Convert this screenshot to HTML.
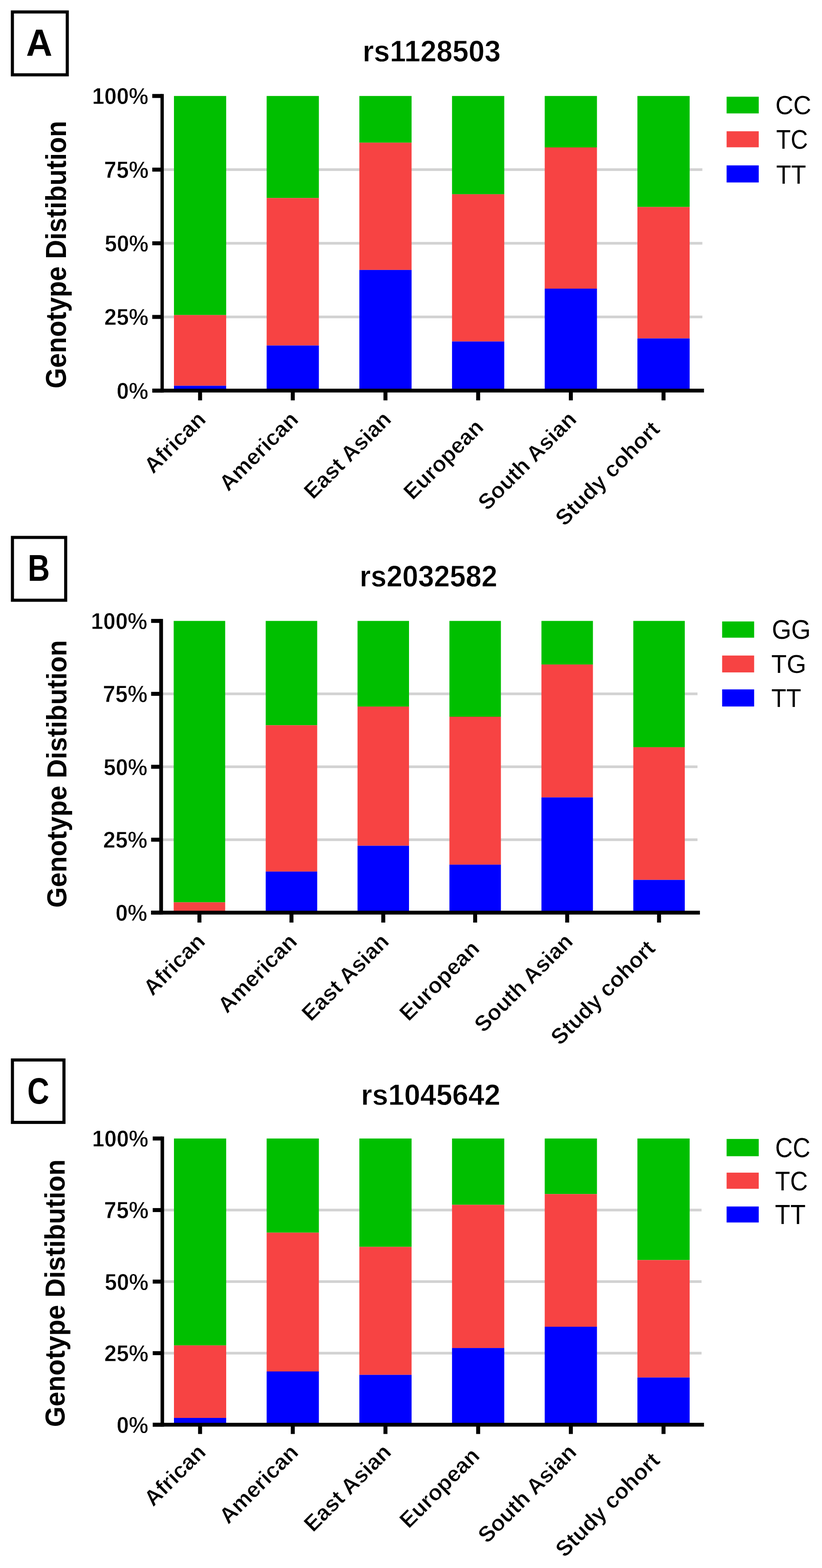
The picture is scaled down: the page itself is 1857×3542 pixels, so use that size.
<!DOCTYPE html>
<html><head><meta charset="utf-8"><title>Genotype Distribution</title>
<style>
html,body{margin:0;padding:0;background:#fff;}
body{width:1857px;height:3542px;overflow:hidden;}
svg{display:block;filter:blur(0.7px);}
text{font-family:'Liberation Sans', Arial, sans-serif;fill:#000;}
</style></head>
<body>
<svg width="1857" height="3542" viewBox="0 0 1857 3542">
<rect width="1857" height="3542" fill="#fff"/>
<rect x="28" y="27" width="124" height="142" fill="none" stroke="#000" stroke-width="7"/>
<text transform="translate(58.94,125.85) scale(0.9677,1)" font-size="84.71" font-weight="bold">A</text>
<text transform="translate(819.24,138.61) scale(0.9482,1)" font-size="68.73" font-weight="bold" stroke="#fff" stroke-width="0.8">rs1128503</text>
<rect x="366.3" y="712.92" width="1220.4" height="6" fill="#d2d2d2"/>
<rect x="366.3" y="546.55" width="1220.4" height="6" fill="#d2d2d2"/>
<rect x="366.3" y="380.17" width="1220.4" height="6" fill="#d2d2d2"/>
<rect x="393" y="216.8" width="118" height="494.9" fill="#00bf00"/>
<rect x="393" y="711.7" width="118" height="159.7" fill="#f74343"/>
<rect x="393" y="871.4" width="118" height="10.9" fill="#0000ff"/>
<rect x="602.4" y="216.8" width="118" height="230.5" fill="#00bf00"/>
<rect x="602.4" y="447.3" width="118" height="333.2" fill="#f74343"/>
<rect x="602.4" y="780.5" width="118" height="101.8" fill="#0000ff"/>
<rect x="811.8" y="216.8" width="118" height="105.5" fill="#00bf00"/>
<rect x="811.8" y="322.3" width="118" height="287.5" fill="#f74343"/>
<rect x="811.8" y="609.8" width="118" height="272.5" fill="#0000ff"/>
<rect x="1021.2" y="216.8" width="118" height="222" fill="#00bf00"/>
<rect x="1021.2" y="438.8" width="118" height="332.6" fill="#f74343"/>
<rect x="1021.2" y="771.4" width="118" height="110.9" fill="#0000ff"/>
<rect x="1230.6" y="216.8" width="118" height="116.2" fill="#00bf00"/>
<rect x="1230.6" y="333" width="118" height="319" fill="#f74343"/>
<rect x="1230.6" y="652" width="118" height="230.3" fill="#0000ff"/>
<rect x="1440" y="216.8" width="118" height="250.8" fill="#00bf00"/>
<rect x="1440" y="467.6" width="118" height="296.9" fill="#f74343"/>
<rect x="1440" y="764.5" width="118" height="117.8" fill="#0000ff"/>
<rect x="362.55" y="212.3" width="7.5" height="674.5" fill="#000"/>
<rect x="344" y="212.3" width="22.3" height="9" fill="#000"/>
<text transform="translate(208.01,235.28) scale(0.9556,1)" font-size="52.11" font-weight="bold" stroke="#fff" stroke-width="0.8">100%</text>
<rect x="344" y="378.68" width="22.3" height="9" fill="#000"/>
<text transform="translate(234.99,401.65) scale(0.9508,1)" font-size="52.86" font-weight="bold" stroke="#fff" stroke-width="0.8">75%</text>
<rect x="344" y="545.05" width="22.3" height="9" fill="#000"/>
<text transform="translate(236.52,568.03) scale(0.9496,1)" font-size="52.11" font-weight="bold" stroke="#fff" stroke-width="0.8">50%</text>
<rect x="344" y="711.42" width="22.3" height="9" fill="#000"/>
<text transform="translate(235.5,734.4) scale(0.9595,1)" font-size="52.11" font-weight="bold" stroke="#fff" stroke-width="0.8">25%</text>
<rect x="344" y="877.8" width="22.3" height="9" fill="#000"/>
<text transform="translate(263.51,900.78) scale(0.9525,1)" font-size="52.11" font-weight="bold" stroke="#fff" stroke-width="0.8">0%</text>
<rect x="344" y="878" width="1246.4" height="8.6" fill="#000"/>
<rect x="447.5" y="882.3" width="9" height="22.1" fill="#000"/>
<text transform="translate(346,1072.1) rotate(-45)" font-size="50" font-weight="bold" stroke="#fff" stroke-width="0.8">African</text>
<rect x="656.9" y="882.3" width="9" height="22.1" fill="#000"/>
<text transform="translate(515.8,1111.7) rotate(-45)" font-size="50" font-weight="bold" stroke="#fff" stroke-width="0.8">American</text>
<rect x="866.3" y="882.3" width="9" height="22.1" fill="#000"/>
<text transform="translate(707.17,1129.73) rotate(-45)" font-size="50" font-weight="bold" stroke="#fff" stroke-width="0.8">East Asian</text>
<rect x="1075.7" y="882.3" width="9" height="22.1" fill="#000"/>
<text transform="translate(932.23,1131.17) rotate(-45)" font-size="50" font-weight="bold" stroke="#fff" stroke-width="0.8">European</text>
<rect x="1285.1" y="882.3" width="9" height="22.1" fill="#000"/>
<text transform="translate(1100.52,1155.18) rotate(-45)" font-size="50" font-weight="bold" stroke="#fff" stroke-width="0.8">South Asian</text>
<rect x="1494.5" y="882.3" width="9" height="22.1" fill="#000"/>
<text transform="translate(1275.37,1190.53) rotate(-45)" font-size="50" font-weight="bold" stroke="#fff" stroke-width="0.8">Study cohort</text>
<rect x="1641.5" y="218.5" width="72.6" height="37.7" fill="#00bf00"/>
<rect x="1641.5" y="296.5" width="72.6" height="36.2" fill="#f74343"/>
<rect x="1641.5" y="373.6" width="72.6" height="38.6" fill="#0000ff"/>
<text transform="translate(1751.7,258.3) scale(0.9346,1)" font-size="60">CC</text>
<text transform="translate(1753.42,335.9) scale(0.8947,1)" font-size="60.28">TC</text>
<text transform="translate(1753.39,414.5) scale(0.9187,1)" font-size="60.14">TT</text>
<text transform="translate(149.48,877.39) rotate(-90) scale(0.9290,1)" font-size="64.36" font-weight="bold">Genotype Distibution</text>
<rect x="28.1" y="1214" width="120.3" height="141.9" fill="none" stroke="#000" stroke-width="7"/>
<text transform="translate(62.68,1312.3) scale(0.8234,1)" font-size="83.62" font-weight="bold">B</text>
<text transform="translate(812.5,1324.82) scale(0.9451,1)" font-size="68.03" font-weight="bold" stroke="#fff" stroke-width="0.8">rs2032582</text>
<rect x="364" y="1893.85" width="1211.7" height="6" fill="#d2d2d2"/>
<rect x="364" y="1729.1" width="1211.7" height="6" fill="#d2d2d2"/>
<rect x="364" y="1564.35" width="1211.7" height="6" fill="#d2d2d2"/>
<rect x="392.4" y="1402.6" width="116.3" height="635.7" fill="#00bf00"/>
<rect x="392.4" y="2038.3" width="116.3" height="23.3" fill="#f74343"/>
<rect x="600.3" y="1402.6" width="116.3" height="235.7" fill="#00bf00"/>
<rect x="600.3" y="1638.3" width="116.3" height="330.5" fill="#f74343"/>
<rect x="600.3" y="1968.8" width="116.3" height="92.8" fill="#0000ff"/>
<rect x="807.7" y="1402.6" width="116.3" height="193.5" fill="#00bf00"/>
<rect x="807.7" y="1596.1" width="116.3" height="314.4" fill="#f74343"/>
<rect x="807.7" y="1910.5" width="116.3" height="151.1" fill="#0000ff"/>
<rect x="1015.3" y="1402.6" width="116.3" height="216.4" fill="#00bf00"/>
<rect x="1015.3" y="1619" width="116.3" height="334.2" fill="#f74343"/>
<rect x="1015.3" y="1953.2" width="116.3" height="108.4" fill="#0000ff"/>
<rect x="1223.2" y="1402.6" width="116.3" height="98.5" fill="#00bf00"/>
<rect x="1223.2" y="1501.1" width="116.3" height="300.2" fill="#f74343"/>
<rect x="1223.2" y="1801.3" width="116.3" height="260.3" fill="#0000ff"/>
<rect x="1430.7" y="1402.6" width="116.3" height="285.3" fill="#00bf00"/>
<rect x="1430.7" y="1687.9" width="116.3" height="299.7" fill="#f74343"/>
<rect x="1430.7" y="1987.6" width="116.3" height="74" fill="#0000ff"/>
<rect x="359.75" y="1398.1" width="8.5" height="668" fill="#000"/>
<rect x="341.4" y="1398.1" width="22.6" height="9" fill="#000"/>
<text transform="translate(205.51,1421.08) scale(0.9556,1)" font-size="52.11" font-weight="bold" stroke="#fff" stroke-width="0.8">100%</text>
<rect x="341.4" y="1562.85" width="22.6" height="9" fill="#000"/>
<text transform="translate(232.49,1585.82) scale(0.9508,1)" font-size="52.86" font-weight="bold" stroke="#fff" stroke-width="0.8">75%</text>
<rect x="341.4" y="1727.6" width="22.6" height="9" fill="#000"/>
<text transform="translate(234.02,1750.58) scale(0.9496,1)" font-size="52.11" font-weight="bold" stroke="#fff" stroke-width="0.8">50%</text>
<rect x="341.4" y="1892.35" width="22.6" height="9" fill="#000"/>
<text transform="translate(233,1915.33) scale(0.9595,1)" font-size="52.11" font-weight="bold" stroke="#fff" stroke-width="0.8">25%</text>
<rect x="341.4" y="2057.1" width="22.6" height="9" fill="#000"/>
<text transform="translate(261.01,2080.08) scale(0.9525,1)" font-size="52.11" font-weight="bold" stroke="#fff" stroke-width="0.8">0%</text>
<rect x="341.4" y="2057.3" width="1239.8" height="8.6" fill="#000"/>
<rect x="446.05" y="2061.6" width="9" height="22.4" fill="#000"/>
<text transform="translate(344.55,2251.4) rotate(-45)" font-size="50" font-weight="bold" stroke="#fff" stroke-width="0.8">African</text>
<rect x="653.95" y="2061.6" width="9" height="22.4" fill="#000"/>
<text transform="translate(512.85,2291) rotate(-45)" font-size="50" font-weight="bold" stroke="#fff" stroke-width="0.8">American</text>
<rect x="861.35" y="2061.6" width="9" height="22.4" fill="#000"/>
<text transform="translate(702.22,2309.03) rotate(-45)" font-size="50" font-weight="bold" stroke="#fff" stroke-width="0.8">East Asian</text>
<rect x="1068.95" y="2061.6" width="9" height="22.4" fill="#000"/>
<text transform="translate(923.08,2308.77) rotate(-45)" font-size="50" font-weight="bold" stroke="#fff" stroke-width="0.8">European</text>
<rect x="1276.85" y="2061.6" width="9" height="22.4" fill="#000"/>
<text transform="translate(1092.27,2334.48) rotate(-45)" font-size="50" font-weight="bold" stroke="#fff" stroke-width="0.8">South Asian</text>
<rect x="1484.35" y="2061.6" width="9" height="22.4" fill="#000"/>
<text transform="translate(1265.12,2363.33) rotate(-45)" font-size="50" font-weight="bold" stroke="#fff" stroke-width="0.8">Study cohort</text>
<rect x="1631.4" y="1403.8" width="72.3" height="36.7" fill="#00bf00"/>
<rect x="1631.4" y="1480.8" width="72.3" height="38.1" fill="#f74343"/>
<rect x="1631.4" y="1557.3" width="72.3" height="38.6" fill="#0000ff"/>
<text transform="translate(1743.67,1442.7) scale(0.9373,1)" font-size="60.28">GG</text>
<text transform="translate(1742.46,1520.23) scale(0.9937,1)" font-size="57.18">TG</text>
<text transform="translate(1742.49,1596.9) scale(0.9570,1)" font-size="57.83">TT</text>
<text transform="translate(149.6,2050.39) rotate(-90) scale(0.9367,1)" font-size="63.83" font-weight="bold">Genotype Distibution</text>
<rect x="28.1" y="2394.4" width="116.4" height="141" fill="none" stroke="#000" stroke-width="7"/>
<text transform="translate(61.76,2492.77) scale(0.8211,1)" font-size="83.38" font-weight="bold">C</text>
<text transform="translate(815.44,2495.73) scale(0.9751,1)" font-size="66.76" font-weight="bold" stroke="#fff" stroke-width="0.8">rs1045642</text>
<rect x="366.7" y="3053.68" width="1218.2" height="6" fill="#d2d2d2"/>
<rect x="366.7" y="2892.05" width="1218.2" height="6" fill="#d2d2d2"/>
<rect x="366.7" y="2730.43" width="1218.2" height="6" fill="#d2d2d2"/>
<rect x="393" y="2571.8" width="118" height="467.4" fill="#00bf00"/>
<rect x="393" y="3039.2" width="118" height="163.8" fill="#f74343"/>
<rect x="393" y="3203" width="118" height="15.3" fill="#0000ff"/>
<rect x="602.4" y="2571.8" width="118" height="212.7" fill="#00bf00"/>
<rect x="602.4" y="2784.5" width="118" height="313.5" fill="#f74343"/>
<rect x="602.4" y="3098" width="118" height="120.3" fill="#0000ff"/>
<rect x="811.8" y="2571.8" width="118" height="244.8" fill="#00bf00"/>
<rect x="811.8" y="2816.6" width="118" height="289.1" fill="#f74343"/>
<rect x="811.8" y="3105.7" width="118" height="112.6" fill="#0000ff"/>
<rect x="1021.2" y="2571.8" width="118" height="149.8" fill="#00bf00"/>
<rect x="1021.2" y="2721.6" width="118" height="323.5" fill="#f74343"/>
<rect x="1021.2" y="3045.1" width="118" height="173.2" fill="#0000ff"/>
<rect x="1230.6" y="2571.8" width="118" height="125.5" fill="#00bf00"/>
<rect x="1230.6" y="2697.3" width="118" height="299.7" fill="#f74343"/>
<rect x="1230.6" y="2997" width="118" height="221.3" fill="#0000ff"/>
<rect x="1440" y="2571.8" width="118" height="274.6" fill="#00bf00"/>
<rect x="1440" y="2846.4" width="118" height="265.3" fill="#f74343"/>
<rect x="1440" y="3111.7" width="118" height="106.6" fill="#0000ff"/>
<rect x="362.7" y="2567.3" width="8" height="655.5" fill="#000"/>
<rect x="345" y="2567.3" width="21.7" height="9" fill="#000"/>
<text transform="translate(208.01,2590.28) scale(0.9556,1)" font-size="52.11" font-weight="bold" stroke="#fff" stroke-width="0.8">100%</text>
<rect x="345" y="2728.93" width="21.7" height="9" fill="#000"/>
<text transform="translate(234.99,2751.9) scale(0.9508,1)" font-size="52.86" font-weight="bold" stroke="#fff" stroke-width="0.8">75%</text>
<rect x="345" y="2890.55" width="21.7" height="9" fill="#000"/>
<text transform="translate(236.52,2913.53) scale(0.9496,1)" font-size="52.11" font-weight="bold" stroke="#fff" stroke-width="0.8">50%</text>
<rect x="345" y="3052.18" width="21.7" height="9" fill="#000"/>
<text transform="translate(235.5,3075.15) scale(0.9595,1)" font-size="52.11" font-weight="bold" stroke="#fff" stroke-width="0.8">25%</text>
<rect x="345" y="3213.8" width="21.7" height="9" fill="#000"/>
<text transform="translate(263.51,3236.78) scale(0.9525,1)" font-size="52.11" font-weight="bold" stroke="#fff" stroke-width="0.8">0%</text>
<rect x="345" y="3214" width="1245.4" height="8.6" fill="#000"/>
<rect x="447.5" y="3218.3" width="9" height="21" fill="#000"/>
<text transform="translate(346,3405.1) rotate(-45)" font-size="50" font-weight="bold" stroke="#fff" stroke-width="0.8">African</text>
<rect x="656.9" y="3218.3" width="9" height="21" fill="#000"/>
<text transform="translate(515.8,3444.7) rotate(-45)" font-size="50" font-weight="bold" stroke="#fff" stroke-width="0.8">American</text>
<rect x="866.3" y="3218.3" width="9" height="21" fill="#000"/>
<text transform="translate(707.17,3462.73) rotate(-45)" font-size="50" font-weight="bold" stroke="#fff" stroke-width="0.8">East Asian</text>
<rect x="1075.7" y="3218.3" width="9" height="21" fill="#000"/>
<text transform="translate(923.33,3454.47) rotate(-45)" font-size="50" font-weight="bold" stroke="#fff" stroke-width="0.8">European</text>
<rect x="1285.1" y="3218.3" width="9" height="21" fill="#000"/>
<text transform="translate(1100.52,3488.18) rotate(-45)" font-size="50" font-weight="bold" stroke="#fff" stroke-width="0.8">South Asian</text>
<rect x="1494.5" y="3218.3" width="9" height="21" fill="#000"/>
<text transform="translate(1275.57,3520.03) rotate(-45)" font-size="50" font-weight="bold" stroke="#fff" stroke-width="0.8">Study cohort</text>
<rect x="1641.5" y="2572.8" width="72.6" height="39" fill="#00bf00"/>
<rect x="1641.5" y="2648.9" width="72.6" height="36.5" fill="#f74343"/>
<rect x="1641.5" y="2725.4" width="72.6" height="36.1" fill="#0000ff"/>
<text transform="translate(1751.35,2614.07) scale(0.8730,1)" font-size="62.96">CC</text>
<text transform="translate(1751.09,2689.18) scale(0.8986,1)" font-size="61.69">TC</text>
<text transform="translate(1750.87,2765) scale(0.9126,1)" font-size="62.03">TT</text>
<text transform="translate(145.6,3223.39) rotate(-90) scale(0.9367,1)" font-size="63.83" font-weight="bold">Genotype Distibution</text>
</svg>
</body></html>
